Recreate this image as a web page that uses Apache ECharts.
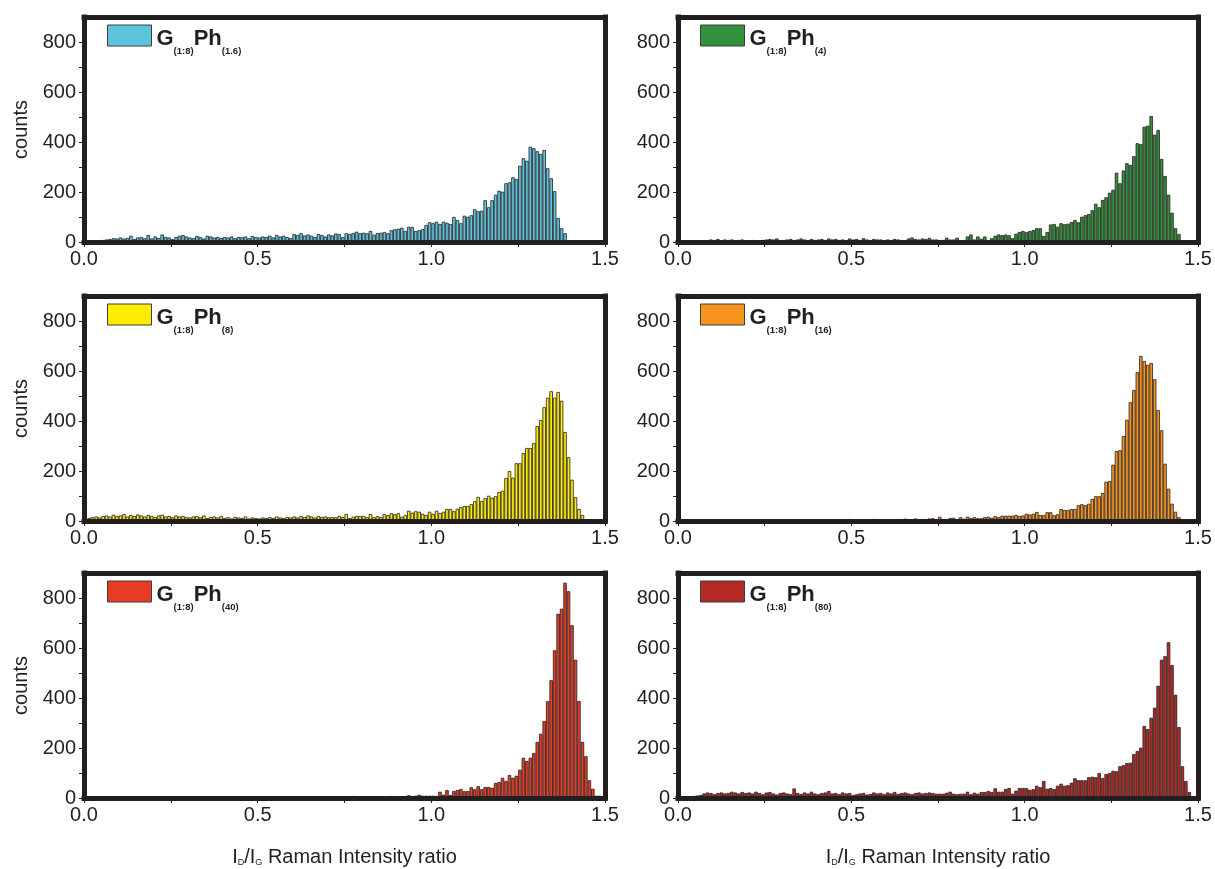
<!DOCTYPE html>
<html><head><meta charset="utf-8">
<script src="https://cdn.jsdelivr.net/npm/echarts@6/dist/echarts.min.js"></script>
<style>html,body{margin:0;padding:0;background:#fff}#chart{width:1215px;height:869px}</style>
</head><body><div id="chart"></div>
<script>
// ---- data ----
const binStart = 0.0;
const binWidth = 0.01;
const xMax = 1.5;
const yMax = 900;
const xTickValues = [0, 0.25, 0.5, 0.75, 1.0, 1.25, 1.5];
const xLabelValues = [0, 0.5, 1.0, 1.5];
const yTickValues = [0, 100, 200, 300, 400, 500, 600, 700, 800];
const yLabelValues = [0, 200, 400, 600, 800];
const phLabels = ['1.6', '4', '8', '16', '40', '80'];
const yAxisTitle = 'counts';

const countsPh1_6 = [
  0,0,0,2,5,8,10,12,15,14,
  18,14,16,25,12,18,20,15,28,14,
  22,16,30,20,18,12,20,25,28,22,
  18,15,24,20,14,25,22,18,20,16,
  20,18,22,15,20,19,22,15,24,20,
  18,22,20,25,18,28,22,25,20,15,
  32,28,35,26,30,25,20,32,28,22,
  30,26,34,
  32,19,35,32,36,41,35,37,35,44,29,36,37,40,35,47,51,53,57,44,61,60,44,47,51,68,79,75,81,72,
  81,77,72,100,88,75,105,101,107,131,123,125,167,139,167,189,205,201,235,239,259,252,305,335,325,381,
  375,363,352,368,295,255,203,96,55,35,
  0,0,0,0,0,0,0,0,0,0,0
];
const countsPh4 = [
  0,0,0,2,2,3,2,3,
  5,10,8,12,6,10,8,10,6,8,10,4,
  6,8,6,5,8,10,12,10,14,6,
  8,10,12,8,10,14,10,6,12,8,
  10,12,8,14,10,12,8,10,6,14,
  10,12,8,15,10,8,12,10,10,6,
  10,8,12,10,8,6,14,18,12,10,
  14,12,16,
  10,10,8,8,17,10,10,17,5,2,
  22,30,10,22,13,22,8,15,25,30,
  27,30,27,15,33,40,44,40,44,48,
  55,55,24,40,70,72,61,75,71,73,
  80,88,79,101,107,112,127,153,139,168,
  179,197,209,277,235,286,315,308,343,395,
  391,461,465,504,429,448,332,264,189,117,
  55,32,
  0,0,0,0,0
];
const countsPh8 = [
  8,12,15,18,14,20,22,18,25,20,
  22,28,18,24,20,26,22,18,24,20,
  16,22,25,18,20,15,22,18,20,16,
  14,18,20,15,22,12,16,18,14,20,
  12,15,10,16,14,12,18,10,14,12,
  10,14,12,16,12,18,14,12,16,14,
  18,14,20,16,22,18,14,20,16,18,
  15,15,15,20,16,28,11,17,20,20,
  20,15,28,15,19,16,27,23,31,27,
  31,17,23,41,33,39,37,29,24,37,
  28,41,32,37,48,48,39,49,55,60,
  60,67,79,96,80,91,101,93,99,116,
  121,172,200,173,231,231,272,292,292,312,
  380,404,455,493,519,493,516,481,356,255,
  165,95,48,24,
  0,0,0,0,0,0
];
const countsPh16 = [
  2,3,2,4,3,5,3,4,6,3,
  4,5,3,6,4,5,7,4,5,3,
  5,6,4,3,5,7,4,6,5,4,
  6,4,5,7,3,5,6,4,5,6,
  4,6,5,3,7,5,4,6,5,8,
  5,4,6,7,5,6,8,5,4,6,
  7,5,6,8,6,9,5,7,10,6,
  8,6,10,
  11,7,17,7,7,12,13,7,15,9,17,12,15,11,11,15,17,13,19,15,21,21,21,21,24,20,22,29,26,29,
  36,24,24,35,35,23,27,48,44,44,
  48,48,63,67,63,69,88,99,99,112,
  157,160,225,280,283,340,405,475,524,595,
  660,640,625,632,567,444,363,229,129,69,
  37,15,
  0,0,0,0,0
];
const countsPh40 = [
  0,0,0,0,1,0,0,1,0,0,
  0,1,0,0,0,1,0,0,0,1,
  0,0,1,0,0,0,1,0,0,0,
  1,0,0,0,1,0,0,0,1,0,
  0,1,0,0,1,0,1,0,0,1,
  1,0,1,2,5,1,2,1,2,1,
  2,1,3,2,1,2,3,2,2,3,
  3,2,6,3,4,5,3,8,4,3,
  5,4,6,5,3,7,5,6,8,5,
  6,4,
  4,11,8,9,13,9,9,9,9,8,
  25,13,32,12,28,32,36,27,28,43,
  35,47,35,44,44,41,60,64,81,68,
  92,81,89,113,161,148,161,180,224,257,
  308,387,471,591,737,757,861,827,691,553,
  388,224,167,71,37,9,9,
  5
];
const countsPh80 = [
  2,3,5,4,8,10,12,18,22,20,
  15,20,22,18,20,25,22,18,24,20,
  22,18,25,20,15,22,24,18,14,20,
  22,18,15,38,20,16,22,18,25,18,
  15,20,22,28,18,20,15,22,18,20,
  12,15,18,20,14,16,22,18,20,15,
  22,18,24,16,20,22,18,15,20,22,
  18,20,22,20,
  17,17,17,21,25,17,15,17,17,25,
  15,21,17,24,24,28,24,39,25,25,
  36,40,17,29,40,40,40,33,35,49,
  43,68,37,40,36,49,57,49,51,61,
  79,71,71,71,83,85,83,100,80,96,
  100,109,107,127,131,140,141,176,188,201,
  288,276,321,361,449,553,567,623,532,413,
  284,127,68,24,
  0,0
];

// ---- layout / style ----
const allCounts = [countsPh1_6, countsPh4, countsPh8, countsPh16, countsPh40, countsPh80];
const colors = ['#5ec4de', '#33913b', '#ffed00', '#f7941e', '#e83a25', '#b52a24'];
const colLeft = [84, 678];
const colWidth = [521, 520];
const rowTop = [17, 296, 573];
const rowHeight = 225;
const ink = '#231f20';
const FONT = 'Liberation Sans, Arial, Helvetica, sans-serif';

const grids = [], xAxes = [], yAxes = [], series = [], legends = [];
const frameLine = {show: true, onZero: false, lineStyle: {color: ink, width: 5, cap: 'square'}};

for (let g = 0; g < 6; g++) {
  const col = g % 2, row = Math.floor(g / 2);
  grids.push({left: colLeft[col], top: rowTop[row], width: colWidth[col], height: rowHeight, containLabel: false});
  const isBottom = row === 2, isLeft = col === 0;
  const name = 'G(1:8)Ph(' + phLabels[g] + ')';
  xAxes.push({
    type: 'value', gridIndex: g, min: 0, max: xMax, interval: 0.25, position: 'bottom', z: 5,
    axisLine: frameLine,
    axisTick: {show: true, length: 5, customValues: xTickValues, lineStyle: {color: ink, width: 1}},
    splitLine: {show: false},
    axisLabel: {
      color: ink, fontSize: 20, fontFamily: FONT, margin: 7, customValues: xLabelValues,
      formatter: v => Number(v).toFixed(1)
    },
    name: isBottom ? '{n|I}{s|D}{n|/I}{s|G}{n| Raman Intensity ratio}' : '',
    nameLocation: 'middle', nameGap: 49,
    nameTextStyle: {
      color: ink, fontFamily: FONT,
      rich: {
        n: {fontSize: 20, color: ink, fontFamily: FONT, lineHeight: 20, verticalAlign: 'middle'},
        s: {fontSize: 9, color: ink, fontFamily: FONT, lineHeight: 9, verticalAlign: 'bottom'}
      }
    }
  });
  xAxes.push({
    type: 'value', gridIndex: g, min: 0, max: xMax, position: 'top', z: 5,
    axisLine: frameLine, axisTick: {show: false}, axisLabel: {show: false}, splitLine: {show: false}
  });
  yAxes.push({
    type: 'value', gridIndex: g, min: 0, max: yMax, interval: 100, position: 'left', z: 5,
    axisLine: frameLine,
    axisTick: {show: true, length: 5, customValues: yTickValues, lineStyle: {color: ink, width: 1}},
    splitLine: {show: false},
    axisLabel: {
      color: ink, fontSize: 20, fontFamily: FONT, margin: 8, customValues: yLabelValues,
      formatter: v => String(v)
    },
    name: isLeft ? yAxisTitle : '',
    nameLocation: 'middle', nameGap: 53, nameRotate: 90,
    nameTextStyle: {color: ink, fontSize: 20, fontFamily: FONT}
  });
  yAxes.push({
    type: 'value', gridIndex: g, min: 0, max: yMax, position: 'right', z: 5,
    axisLine: frameLine, axisTick: {show: false}, axisLabel: {show: false}, splitLine: {show: false}
  });
  const data = allCounts[g].map((c, i) => [binStart + (i + 0.5) * binWidth, c]);
  series.push({
    type: 'bar', name: name, xAxisIndex: 2 * g, yAxisIndex: 2 * g, data: data,
    barWidth: '100%', barGap: '0%', z: 2,
    itemStyle: {color: colors[g], borderColor: ink, borderWidth: 0.8},
    emphasis: {disabled: true}
  });
  const iconLeft = col === 0 ? 107 : 700;
  const iconTop = [25, 304, 581][row];
  legends.push({
    data: [name], left: iconLeft - 5, top: iconTop - 9, icon: 'rect',
    itemWidth: 44, itemHeight: 21, selectedMode: false,
    itemStyle: {borderColor: '#3d3d3d', borderWidth: 1},
    formatter: () => '{b|G}{s|(1:8)}{b|Ph}{s|(' + phLabels[g] + ')}',
    textStyle: {
      rich: {
        b: {fontSize: 22, fontWeight: 'bold', fontFamily: FONT, color: ink, lineHeight: 42, padding: [7, 0, 0, 0], verticalAlign: 'middle'},
        s: {fontSize: 9.5, fontWeight: 'bold', fontFamily: FONT, color: ink, lineHeight: 10, verticalAlign: 'bottom'}
      }
    }
  });
}

const chart = echarts.init(document.getElementById('chart'), null, {renderer: 'canvas'});
chart.setOption({
  backgroundColor: '#ffffff',
  animation: false,
  grid: grids, xAxis: xAxes, yAxis: yAxes, series: series, legend: legends,
  tooltip: {show: false}
});
</script></body></html>
